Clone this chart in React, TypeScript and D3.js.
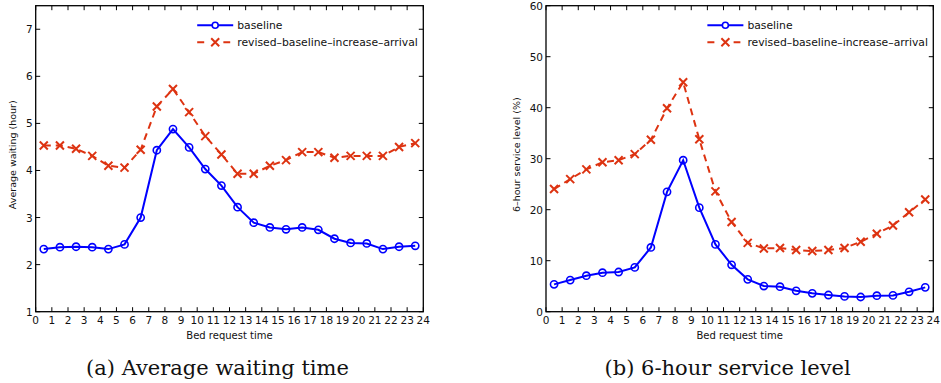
import React from "react";
import * as d3 from "d3";

const hours = d3.range(0, 24).map((h) => h + 0.5);
const xTicks = d3.range(0, 25);

const waitBaseline = [2.33, 2.37, 2.38, 2.37, 2.33, 2.43, 3.0, 4.43, 4.88, 4.49, 4.03, 3.68, 3.22, 2.89, 2.79, 2.75, 2.79, 2.74, 2.55, 2.46, 2.45, 2.33, 2.38, 2.4];
const waitRevised = [4.53, 4.53, 4.46, 4.31, 4.1, 4.06, 4.44, 5.36, 5.73, 5.24, 4.73, 4.34, 3.93, 3.93, 4.1, 4.22, 4.39, 4.39, 4.27, 4.31, 4.31, 4.31, 4.5, 4.58];
const waitTicks = [1, 2, 3, 4, 5, 6, 7];

const svcBaseline = [5.36, 6.2, 7.06, 7.65, 7.78, 8.69, 12.6, 23.5, 29.7, 20.4, 13.2, 9.2, 6.34, 5.03, 4.9, 4.1, 3.6, 3.27, 3.0, 2.88, 3.14, 3.2, 3.9, 4.77];
const svcRevised = [24.05, 26.0, 27.9, 29.3, 29.7, 30.9, 33.7, 39.9, 45.0, 33.8, 23.6, 17.6, 13.5, 12.4, 12.5, 12.1, 11.9, 12.1, 12.5, 13.7, 15.3, 16.9, 19.5, 22.0];
const svcTicks = [0, 10, 20, 30, 40, 50, 60];

const seriesNames = ["baseline", "revised\u2013baseline\u2013increase\u2013arrival"];
const BLUE = "#0000ff";
const RED = "#dd3311";
const SANS = "DejaVu Sans, Verdana, sans-serif";
const SERIF = "DejaVu Serif, serif";

type PanelProps = {
  left: number;
  right: number;
  top: number;
  bottom: number;
  yDomain: [number, number];
  yTicks: number[];
  base: number[];
  revised: number[];
  yLabel: string;
  yLabelX: number;
  caption: string;
};

function Cross({ x, y }: { x: number; y: number }) {
  const s = 4;
  return (
    <path d={`M${x - s},${y - s}L${x + s},${y + s}M${x - s},${y + s}L${x + s},${y - s}`} stroke={RED} strokeWidth={2} fill="none" />
  );
}

function Panel(p: PanelProps) {
  const x = d3.scaleLinear().domain([0, 24]).range([p.left, p.right]);
  const y = d3.scaleLinear().domain(p.yDomain).range([p.bottom, p.top]);
  const line = d3
    .line<number>()
    .x((_, i) => x(hours[i]))
    .y((d) => y(d));
  const tl = 4.5;
  const cx = (p.left + p.right) / 2;
  const legX = x(10);
  const legY1 = p.top + 19.5;
  const legY2 = p.top + 36.5;
  return (
    <g>
      <rect x={p.left} y={p.top} width={p.right - p.left} height={p.bottom - p.top} fill="white" stroke="black" strokeWidth={1.3} />
      {xTicks.map((t) => (
        <g key={"xt" + t}>
          <line x1={x(t)} x2={x(t)} y1={p.bottom} y2={p.bottom - tl} stroke="black" strokeWidth={1} />
          <line x1={x(t)} x2={x(t)} y1={p.top} y2={p.top + tl} stroke="black" strokeWidth={1} />
          <text x={x(t)} y={p.bottom + 12} textAnchor="middle" fontFamily={SANS} fontSize={10.5} fill="#111">
            {t}
          </text>
        </g>
      ))}
      {p.yTicks.map((t) => (
        <g key={"yt" + t}>
          <line x1={p.left} x2={p.left + tl} y1={y(t)} y2={y(t)} stroke="black" strokeWidth={1} />
          <line x1={p.right} x2={p.right - tl} y1={y(t)} y2={y(t)} stroke="black" strokeWidth={1} />
          <text x={p.left - 3} y={y(t) + 4} textAnchor="end" fontFamily={SANS} fontSize={10.5} fill="#111">
            {t}
          </text>
        </g>
      ))}
      <path d={line(p.revised) || ""} fill="none" stroke={RED} strokeWidth={2} strokeDasharray="7,5" />
      <path d={line(p.base) || ""} fill="none" stroke={BLUE} strokeWidth={2} />
      {p.base.map((v, i) => (
        <circle key={"c" + i} cx={x(hours[i])} cy={y(v)} r={3.6} fill="none" stroke={BLUE} strokeWidth={1.6} />
      ))}
      {p.revised.map((v, i) => (
        <Cross key={"x" + i} x={x(hours[i])} y={y(v)} />
      ))}
      {/* legend */}
      <g>
        <line x1={legX} x2={legX + 36} y1={legY1} y2={legY1} stroke={BLUE} strokeWidth={2} />
        <circle cx={legX + 18} cy={legY1} r={3} fill="white" stroke={BLUE} strokeWidth={1.6} />
        <text x={legX + 40} y={legY1 + 4} fontFamily={SANS} fontSize={10.8} fill="#111">
          {seriesNames[0]}
        </text>
        <line x1={legX} x2={legX + 36} y1={legY2} y2={legY2} stroke={RED} strokeWidth={2} strokeDasharray="7,6" />
        <rect x={legX + 10} y={legY2 - 5} width={16} height={10} fill="white" />
        <Cross x={legX + 18} y={legY2} />
        <text x={legX + 40} y={legY2 + 4} fontFamily={SANS} fontSize={10.8} fill="#111">
          {seriesNames[1]}
        </text>
      </g>
      <text x={cx} y={p.bottom + 27} textAnchor="middle" fontFamily={SANS} fontSize={10} fill="#111">
        Bed request time
      </text>
      <text
        transform={`translate(${p.yLabelX},${(p.top + p.bottom) / 2 - 4}) rotate(-90)`}
        textAnchor="middle"
        fontFamily={SANS}
        fontSize={9.5}
        fill="#111"
      >
        {p.yLabel}
      </text>
      <text x={cx - 12} y={375} textAnchor="middle" fontFamily={SERIF} fontSize={21} fill="#111">
        {p.caption}
      </text>
    </g>
  );
}

export default function App() {
  return (
    <svg width={941} height={383} style={{ position: "absolute", left: 0, top: 0, background: "white" }}>
      <rect width={941} height={383} fill="white" />
      <Panel
        left={35.7}
        right={423.3}
        top={5.7}
        bottom={311.7}
        yDomain={[1, 7.5]}
        yTicks={waitTicks}
        base={waitBaseline}
        revised={waitRevised}
        yLabel="Average waiting (hour)"
        yLabelX={16}
        caption="(a) Average waiting time"
      />
      <Panel
        left={546}
        right={933.3}
        top={5.7}
        bottom={311.7}
        yDomain={[0, 60]}
        yTicks={svcTicks}
        base={svcBaseline}
        revised={svcRevised}
        yLabel={"6\u2013hour service level (%)"}
        yLabelX={520}
        caption="(b) 6-hour service level"
      />
    </svg>
  );
}
